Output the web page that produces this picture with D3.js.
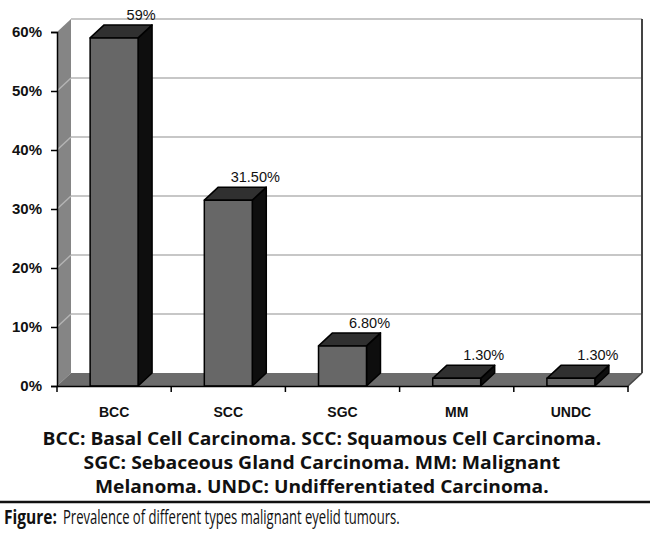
<!DOCTYPE html>
<html>
<head>
<meta charset="utf-8">
<script src="https://cdn.jsdelivr.net/npm/d3@7"></script>
<style>
  body { margin: 0; background: #fff; }
  svg { display: block; }
</style>
</head>
<body>
<svg id="chart" width="650" height="534"></svg>
<script>
// chart data
const categories = ['BCC', 'SCC', 'SGC', 'MM', 'UNDC'];
const prevalence = [0.59, 0.315, 0.068, 0.013, 0.013];
const valueLabels = ['59%', '31.50%', '6.80%', '1.30%', '1.30%'];
const yTicks = [0, 0.1, 0.2, 0.3, 0.4, 0.5, 0.6];

const captionLines = [
  'BCC: Basal Cell Carcinoma. SCC: Squamous Cell Carcinoma.',
  'SGC: Sebaceous Gland Carcinoma. MM: Malignant',
  'Melanoma. UNDC: Undifferentiated Carcinoma.'
];

const svg = d3.select('#chart');

const plotLeft = 57, plotRight = 628, plotTop = 32, plotBottom = 386;
const dx = 14, dy = -13; // 3d depth offset

const x = d3.scaleBand()
  .domain(categories)
  .range([plotLeft, plotRight])
  .paddingInner(0.58)
  .paddingOuter(0.29);

const y = d3.scaleLinear()
  .domain([0, 0.6])
  .range([plotBottom, plotTop]);

const pts = arr => arr.map(p => p.join(',')).join(' ');
const axisFont = '"Liberation Sans", Arial, sans-serif';

// squeeze a text horizontally so it spans the given width
function fitText(sel, x0, y0, width) {
  const w = sel.node().getComputedTextLength();
  sel.attr('x', 0).attr('y', 0)
    .attr('transform', `translate(${x0},${y0}) scale(${width / w},1)`);
}

// back wall
svg.append('rect')
  .attr('x', plotLeft + dx).attr('y', plotTop + dy)
  .attr('width', plotRight - plotLeft).attr('height', plotBottom - plotTop)
  .attr('fill', '#fff');

// left wall
svg.append('polygon')
  .attr('points', pts([[plotLeft, plotBottom], [plotLeft + dx, plotBottom + dy], [plotLeft + dx, plotTop + dy], [plotLeft, plotTop]]))
  .attr('fill', '#858585');

// floor
svg.append('polygon')
  .attr('points', pts([[plotLeft, plotBottom], [plotRight, plotBottom], [plotRight + dx, plotBottom + dy], [plotLeft + dx, plotBottom + dy]]))
  .attr('fill', '#6c6c6c');

// gridlines on back wall and left wall
const grid = svg.append('g').attr('stroke', '#b4b4b4').attr('stroke-width', 1.5);
grid.selectAll('line.back')
  .data(yTicks.slice(1))
  .enter().append('line')
  .attr('x1', plotLeft + dx).attr('x2', plotRight + dx)
  .attr('y1', d => y(d) + dy).attr('y2', d => y(d) + dy);
grid.selectAll('line.side')
  .data(yTicks.slice(1, -1))
  .enter().append('line')
  .attr('x1', plotLeft).attr('x2', plotLeft + dx)
  .attr('y1', d => y(d)).attr('y2', d => y(d) + dy);

// wall edges
svg.append('line')
  .attr('x1', plotRight + dx).attr('x2', plotRight + dx)
  .attr('y1', plotTop + dy).attr('y2', plotBottom + dy)
  .attr('stroke', '#444').attr('stroke-width', 2);
svg.append('line')
  .attr('x1', plotRight).attr('x2', plotRight + dx)
  .attr('y1', plotBottom).attr('y2', plotBottom + dy)
  .attr('stroke', '#444').attr('stroke-width', 1.5);

const barData = categories.map((c, i) => ({ c, v: prevalence[i], label: valueLabels[i] }));

// bars
const bars = svg.selectAll('g.bar')
  .data(barData)
  .enter().append('g')
  .attr('stroke', '#000')
  .attr('stroke-width', 1.5)
  .attr('stroke-linejoin', 'round');

bars.append('polygon') // right side
  .attr('fill', '#0e0e0e')
  .attr('points', d => {
    const x1 = x(d.c) + x.bandwidth();
    return pts([[x1, y(d.v)], [x1 + dx, y(d.v) + dy], [x1 + dx, plotBottom + dy], [x1, plotBottom]]);
  });

bars.append('polygon') // top
  .attr('fill', '#303030')
  .attr('points', d => {
    const x0 = x(d.c), x1 = x0 + x.bandwidth();
    return pts([[x0, y(d.v)], [x0 + dx, y(d.v) + dy], [x1 + dx, y(d.v) + dy], [x1, y(d.v)]]);
  });

bars.append('rect') // front
  .attr('fill', '#676767')
  .attr('x', d => x(d.c))
  .attr('y', d => y(d.v))
  .attr('width', x.bandwidth())
  .attr('height', d => plotBottom - y(d.v));

// value labels
svg.selectAll('text.val')
  .data(barData)
  .enter().append('text')
  .attr('x', d => x(d.c) + x.bandwidth() / 2 + 27)
  .attr('y', d => Math.max(y(d.v) + dy - 5, 15))
  .attr('text-anchor', 'middle')
  .attr('font-family', axisFont)
  .attr('font-size', 14.5)
  .attr('fill', '#111')
  .text(d => d.label);

// y axis
const yAxis = svg.append('g')
  .attr('transform', `translate(${plotLeft},0)`)
  .attr('font-family', axisFont)
  .attr('font-size', 15)
  .call(d3.axisLeft(y).tickValues(yTicks).tickFormat(d3.format('.0%')).tickSize(6).tickPadding(9));
yAxis.select('.domain').attr('stroke', '#000').attr('stroke-width', 1.5);
yAxis.selectAll('.tick line').attr('stroke', '#000').attr('stroke-width', 1.5);
yAxis.selectAll('text')
  .style('font-family', axisFont)
  .style('font-size', '15px')
  .attr('font-weight', 'bold')
  .attr('fill', '#111');

// x axis
const xAxis = svg.append('g')
  .attr('transform', `translate(0,${plotBottom})`)
  .call(d3.axisBottom(x).tickSize(0).tickPadding(21));
xAxis.select('.domain').attr('stroke', '#000').attr('stroke-width', 1.5);
xAxis.selectAll('text')
  .style('font-family', axisFont)
  .style('font-size', '14px')
  .attr('font-weight', 'bold')
  .attr('fill', '#111');
const step = x.step();
xAxis.selectAll('line.sep')
  .data(d3.range(categories.length + 1))
  .enter().append('line')
  .attr('x1', i => plotLeft + i * step).attr('x2', i => plotLeft + i * step)
  .attr('y1', 0).attr('y2', 6)
  .attr('stroke', '#000').attr('stroke-width', 1.5);

// caption
const capFont = '"Open Sans", "Noto Sans", sans-serif';
const capWidths = [559, 477, 454];
const capBase = [445, 469, 493];
svg.selectAll('text.cap')
  .data(captionLines)
  .enter().append('text')
  .attr('font-family', capFont)
  .attr('font-size', 18)
  .attr('font-weight', 'bold')
  .attr('fill', '#111')
  .text(d => d)
  .each(function (d, i) {
    fitText(d3.select(this), 322 - capWidths[i] / 2, capBase[i], capWidths[i]);
  });

svg.append('line')
  .attr('x1', 0).attr('x2', 650)
  .attr('y1', 502).attr('y2', 502)
  .attr('stroke', '#111').attr('stroke-width', 2.5);

const figLabel = svg.append('text')
  .attr('font-family', capFont)
  .attr('font-size', 20)
  .attr('font-weight', 'bold')
  .attr('fill', '#111')
  .text('Figure:');
fitText(figLabel, 4, 524, 53);

const figText = svg.append('text')
  .attr('font-family', capFont)
  .attr('font-size', 20)
  .attr('fill', '#111')
  .text('Prevalence of different types malignant eyelid tumours.');
fitText(figText, 63, 524, 337);
</script>
</body>
</html>
